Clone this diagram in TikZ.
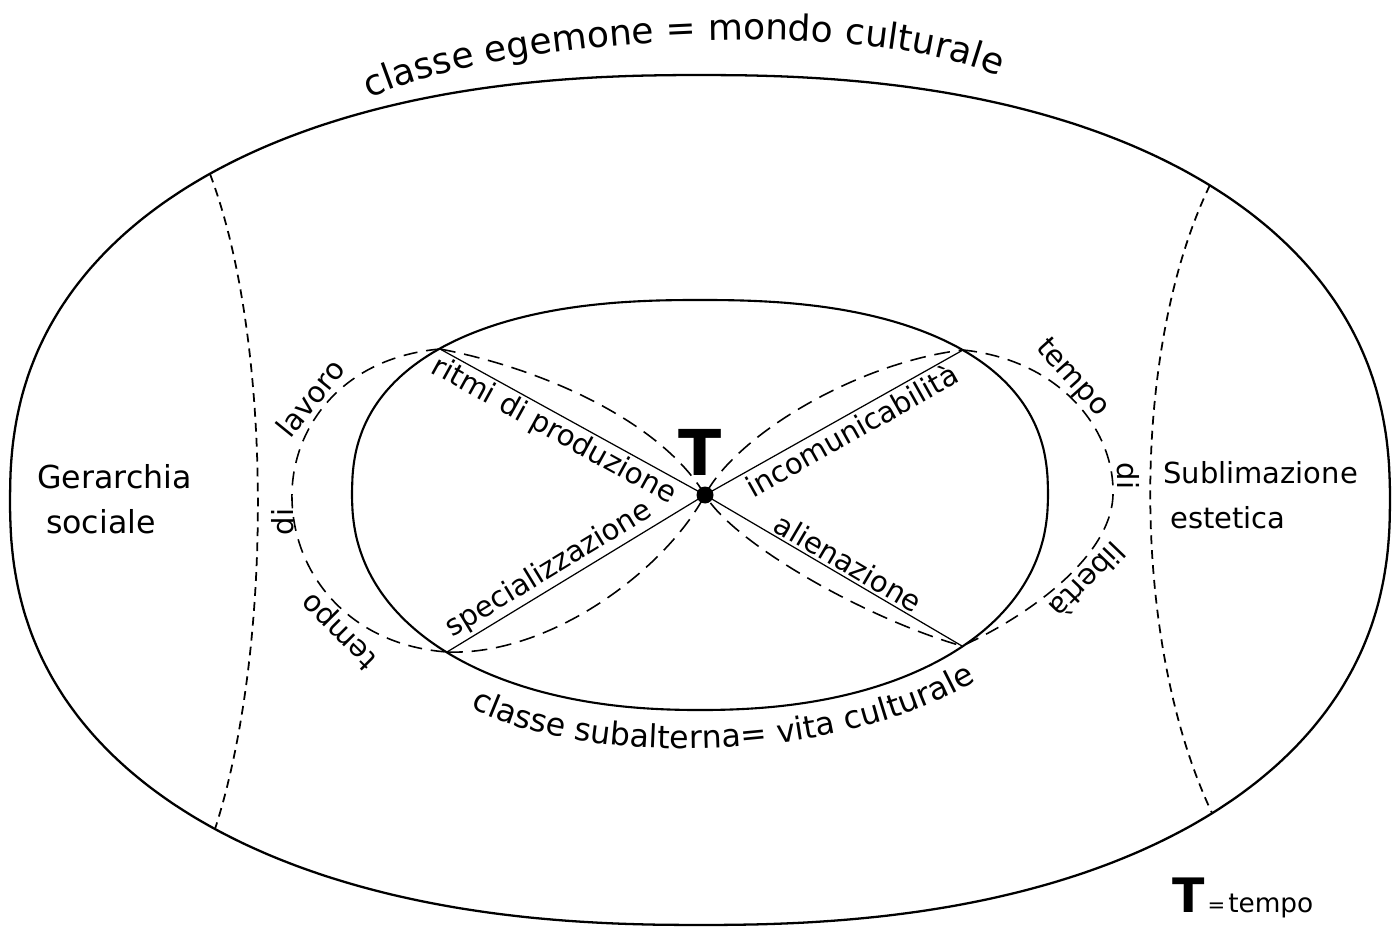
\documentclass[tikz,border=0pt]{standalone}
\usepackage{fontspec}
\setmainfont{DejaVu Sans}
\usetikzlibrary{decorations.text}

\begin{document}
\begin{tikzpicture}[x=0.2mm, y=-0.2mm,
    rim/.style={line width=1.3pt},
    core/.style={line width=1.2pt},
    ray/.style={line width=0.7pt},
    lemni/.style={line width=0.9pt, dash pattern=on 9pt off 5pt},
    sideArc/.style={line width=0.9pt, dash pattern=on 8pt off 5pt},
    divide/.style={line width=1pt, dash pattern=on 5pt off 3.5pt},
    rayLabel/.style={font=\fontsize{16.5}{18}\selectfont, inner sep=1.5pt},
    arcLabel/.style={font=\fontsize{16.5}{18}\selectfont, inner sep=0pt},
    zoneLabel/.style={font=\fontsize{18}{25.6}\selectfont, align=left, inner sep=0pt, anchor=north west},
    curveText/.style={decorate, decoration={text along path, text align=center, text={#1}}}
  ]
  \useasboundingbox (0,0) rectangle (1393,931);

  \draw[rim] plot[smooth cycle, variable=\t, domain=0.5:357.5, samples=120]
    ({700+690*cos(\t)*pow(abs(cos(\t)),-0.13)}, {500-425*sin(\t)*pow(abs(sin(\t)),-0.13)});
  \draw[core] plot[smooth, variable=\t, domain=0.5:179.5, samples=60]
    ({700+348*cos(\t)*pow(abs(cos(\t)),-0.167)}, {495-195*pow(sin(\t),0.833)})
    -- plot[smooth, variable=\t, domain=180.5:359.5, samples=60]
    ({700+348*cos(\t)*pow(abs(cos(\t)),-0.091)}, {495+215*pow(-sin(\t),0.909)}) -- cycle;

  \coordinate (ul) at (440,349);
  \coordinate (ur) at (963,350);
  \coordinate (ll) at (447,652);
  \coordinate (lr) at (962,646);
  \coordinate (lt) at (210,174);
  \coordinate (lb) at (215,829);
  \coordinate (rt) at (1210,185);
  \coordinate (rb) at (1212,813);

  \node[circle, fill, inner sep=0pt, minimum size=3.4mm] (T) at (705,495) {};
  \node[font=\fontsize{36}{36}\selectfont\bfseries, anchor=base, inner sep=0pt] (Tsign) at (700,475) {T};

  \draw[divide] (lt) .. controls (273,340) and (273,650) .. (lb);
  \draw[divide] (rt) .. controls (1130,350) and (1130,640) .. (rb);

  \draw[ray] (ul) -- node[rayLabel, sloped, below, pos=.46] {ritmi di produzione} (T.center);
  \draw[ray] (ll) -- node[rayLabel, sloped, above, pos=.43] {specializzazione} (T.center);
  \draw[ray] (T.center) -- node[rayLabel, sloped, below, pos=.54] {incomunicabilità} (ur);
  \draw[ray] (T.center) -- node[rayLabel, sloped, above, pos=.53] {alienazione} (lr);

  \draw[lemni] (ul) .. controls (540,368) and (660,420) .. (T.center) .. controls (735,545) and (870,620) .. (lr);
  \draw[lemni] (ll) .. controls (550,656) and (665,570) .. (T.center) .. controls (738,433) and (860,362) .. (ur);

  \draw[sideArc] (ul) .. controls (340,358) and (290,430) .. (292,500) .. controls (294,575) and (350,645) .. (ll);
  \draw[sideArc] (ur) .. controls (1060,360) and (1115,430) .. (1113,495) .. controls (1111,560) and (1020,620) .. (lr);

  \node[arcLabel, rotate=51] (lavoro) at (310,398) {lavoro};
  \node[arcLabel, rotate=90] (diL) at (283,522) {di};
  \node[arcLabel, rotate=135] (tempoL) at (340,630) {tempo};
  \node[arcLabel, rotate=-48] (tempoR) at (1072,378) {tempo};
  \node[arcLabel, rotate=-90] (diR) at (1128,476) {di};
  \node[arcLabel, rotate=-134] (liberta) at (1088,581) {libertà};

  \node[zoneLabel] (gerarchia) at (37,464) {Gerarchia\\\hspace*{5pt}sociale};
  \node[zoneLabel, font=\fontsize{16.5}{25.6}\selectfont] (sublimazione) at (1163,461) {Sublimazione\\\hspace*{4pt}estetica};

  \path[curveText={|\fontsize{20.5}{24}\selectfont|classe egemone = mondo culturale}]
    (360,103) .. controls (480,40) and (860,10) .. (1008,80);
  \path[curveText={|\fontsize{18}{22}\selectfont|classe subalterna= vita culturale}]
    (452,697) .. controls (560,770) and (850,770) .. (994,670);

  \node[anchor=base west, inner sep=0pt] (key) at (1172,912)
    {{\fontsize{27}{27}\selectfont\bfseries T}\,{\fontsize{12}{12}\selectfont=}\,{\fontsize{15}{15}\selectfont tempo}};
\end{tikzpicture}
\end{document}
